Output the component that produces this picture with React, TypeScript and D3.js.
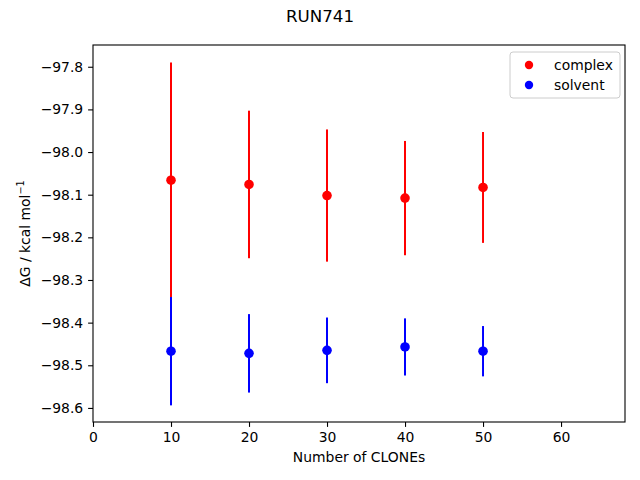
import React, { useEffect, useRef } from 'react'
import * as d3 from 'd3'

// Data
const clones = [10, 20, 30, 40, 50]
const complexMean = [-98.066, -98.076, -98.102, -98.108, -98.083]
const complexErr = [0.276, 0.173, 0.155, 0.134, 0.13]
const solventMean = [-98.467, -98.472, -98.465, -98.457, -98.467]
const solventErr = [0.127, 0.092, 0.077, 0.067, 0.059]
const xTicks = [0, 10, 20, 30, 40, 50, 60]
const yTicks = [-97.8, -97.9, -98.0, -98.1, -98.2, -98.3, -98.4, -98.5, -98.6]

const series = [
  { name: 'complex', color: '#ff0000', mean: complexMean, err: complexErr },
  { name: 'solvent', color: '#0000ff', mean: solventMean, err: solventErr },
]

const App = () => {
  const ref = useRef<SVGSVGElement | null>(null)

  useEffect(() => {
    const width = 640
    const height = 480
    const margins = { top: 45, right: 15, bottom: 58, left: 93 }
    const boundedWidth = width - margins.left - margins.right
    const boundedHeight = height - margins.top - margins.bottom
    const font = 'DejaVu Sans, sans-serif'

    const svg = d3.select(ref.current)
    svg.selectAll('*').remove()

    svg.append('rect').attr('width', width).attr('height', height).attr('fill', 'white')

    const bounds = svg.append('g')
      .attr('transform', `translate(${margins.left},${margins.top})`)

    // Scales
    const xScale = d3.scaleLinear()
      .domain([0, 68.2])
      .range([0, boundedWidth])

    const yScale = d3.scaleLinear()
      .domain([-98.633, -97.749])
      .range([boundedHeight, 0])

    // Data: error bars then dots, one series at a time
    series.forEach(s => {
      const g = bounds.append('g')
      g.selectAll('line')
        .data(clones)
        .join('line')
        .attr('x1', d => xScale(d))
        .attr('x2', d => xScale(d))
        .attr('y1', (d, i) => yScale(s.mean[i] - s.err[i]))
        .attr('y2', (d, i) => yScale(s.mean[i] + s.err[i]))
        .attr('stroke', s.color)
        .attr('stroke-width', 2)
      g.selectAll('circle')
        .data(clones)
        .join('circle')
        .attr('cx', d => xScale(d))
        .attr('cy', (d, i) => yScale(s.mean[i]))
        .attr('r', 4.8)
        .attr('fill', s.color)
    })

    // Axes
    const xAxis = bounds.append('g')
      .attr('transform', `translate(0,${boundedHeight})`)
      .call(d3.axisBottom(xScale).tickValues(xTicks).tickSizeOuter(0).tickSize(4.9).tickPadding(4.9).tickFormat(d3.format('d')))

    const yAxis = bounds.append('g')
      .call(d3.axisLeft(yScale).tickValues(yTicks).tickSizeOuter(0).tickSize(4.9).tickPadding(4.9)
        .tickFormat(d => d3.format('.1f')(d as number).replace('-', '\u2212')))

    ;[xAxis, yAxis].forEach(a => {
      a.select('.domain').remove()
      a.selectAll('line').attr('stroke', 'black').attr('stroke-width', 1.1)
      a.selectAll('text').attr('fill', 'black').style('font-family', font).style('font-size', '13.9px')
    })

    // Frame
    bounds.append('rect')
      .attr('width', boundedWidth)
      .attr('height', boundedHeight)
      .attr('fill', 'none')
      .attr('stroke', 'black')
      .attr('stroke-width', 1.1)

    // Labels
    svg.append('text')
      .attr('x', margins.left + boundedWidth / 2)
      .attr('y', 462)
      .attr('text-anchor', 'middle')
      .style('font-family', font)
      .style('font-size', '13.9px')
      .text('Number of CLONEs')

    const yLabel = svg.append('text')
      .attr('transform', `translate(30,${margins.top + boundedHeight / 2}) rotate(-90)`)
      .attr('text-anchor', 'middle')
      .style('font-family', font)
      .style('font-size', '13.9px')
    yLabel.append('tspan').text('\u0394G / kcal mol')
    yLabel.append('tspan').attr('dy', -6).style('font-size', '9.7px').text('\u22121')

    svg.append('text')
      .attr('x', width / 2)
      .attr('y', 22)
      .attr('text-anchor', 'middle')
      .style('font-family', font)
      .style('font-size', '16.7px')
      .text('RUN741')

    // Legend
    const legend = svg.append('g').attr('transform', 'translate(510,52)')
    legend.append('rect')
      .attr('width', 110)
      .attr('height', 46)
      .attr('rx', 3)
      .attr('fill', 'white')
      .attr('fill-opacity', 0.8)
      .attr('stroke', '#cccccc')
    series.forEach((s, i) => {
      legend.append('circle')
        .attr('cx', 19)
        .attr('cy', 13 + i * 20)
        .attr('r', 4.2)
        .attr('fill', s.color)
      legend.append('text')
        .attr('x', 44)
        .attr('y', 13 + i * 20)
        .attr('dy', '0.35em')
        .style('font-family', font)
        .style('font-size', '13.9px')
        .text(s.name)
    })
  }, [])

  return (
    <svg ref={ref} width={640} height={480} style={{ position: 'absolute', left: 0, top: 0 }} />
  )
}

export default App
